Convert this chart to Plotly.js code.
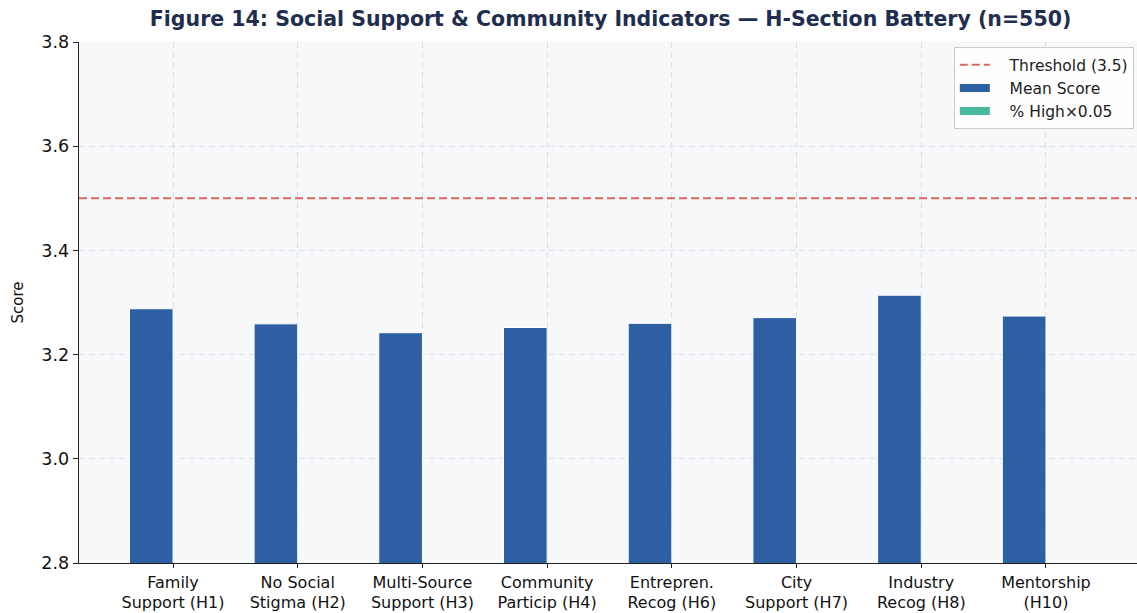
<!DOCTYPE html>
<html><head><meta charset="utf-8">
<script src="https://cdn.plot.ly/plotly-3.0.1.min.js"></script>
<style>html,body{margin:0;padding:0;background:#fff}#chart{width:1137px;height:613px}</style>
</head><body><div id="chart"></div>
<script>
const categories = ["Family<br>Support (H1)", "No Social<br>Stigma (H2)", "Multi-Source<br>Support (H3)", "Community<br>Particip (H4)", "Entrepren.<br>Recog (H6)", "City<br>Support (H7)", "Industry<br>Recog (H8)", "Mentorship<br>(H10)"];
const meanScore = [3.288, 3.259, 3.242, 3.252, 3.260, 3.271, 3.314, 3.274];
const pctHighScaled = [2.05, 1.95, 1.90, 1.93, 1.96, 2.00, 2.15, 2.01];
const threshold = 3.5;
const yTicks = [2.8, 3.0, 3.2, 3.4, 3.6, 3.8];
const seriesNames = ["Threshold (3.5)", "Mean Score", "% High×0.05"];

const blue = '#2e5fa3', teal = '#48b99f', red = '#d9695f';
const pad = '\u00a0\u00a0\u00a0';
const idx = categories.map((_, i) => i);
const traces = [
  {type: 'scatter', mode: 'lines', name: pad + seriesNames[0], x: [0, 1], y: [threshold, threshold],
   xaxis: 'x2', yaxis: 'y', line: {color: red, width: 2, dash: '8px,4px'}, hoverinfo: 'skip'},
  {type: 'bar', name: seriesNames[1], x: idx, y: meanScore, showlegend: false, marker: {color: blue, line: {color: '#ffffff', width: 1}}},
  {type: 'bar', name: seriesNames[2], x: idx, y: pctHighScaled, showlegend: false, marker: {color: teal, line: {color: '#ffffff', width: 1}}},
  {type: 'scatter', mode: 'lines', name: pad + seriesNames[1], x: [null], y: [null], line: {color: blue, width: 8}},
  {type: 'scatter', mode: 'lines', name: pad + seriesNames[2], x: [null], y: [null], line: {color: teal, width: 8}}
];
const font = "DejaVu Sans, sans-serif";
const layout = {
  width: 1137, height: 613,
  margin: {l: 79, r: 0, t: 42, b: 50},
  paper_bgcolor: '#ffffff', plot_bgcolor: '#f7f8fa',
  barmode: 'group', bargap: 0.3, bargroupgap: 0,
  showlegend: true,
  title: {text: '<b>Figure 14: Social Support & Community Indicators — H-Section Battery (n=550)</b>',
          font: {family: font, size: 20.5, color: '#1f2e50'}, x: 0.537, xanchor: 'center', y: 0.970, yanchor: 'middle'},
  font: {family: font, size: 14, color: '#222'},
  xaxis: {type: 'linear', range: [-0.754, 7.73], tickvals: idx, ticktext: categories,
          showgrid: true, gridcolor: '#dcdfe3', griddash: '6px,4px', gridwidth: 1,
          showline: true, linecolor: '#222', linewidth: 1.3, ticks: 'outside', ticklen: 4, tickcolor: '#222',
          tickfont: {family: font, size: 16, color: '#111'}, zeroline: false, fixedrange: true},
  xaxis2: {overlaying: 'x', range: [0, 1], visible: false, fixedrange: true},
  yaxis: {range: [2.8, 3.8], tickvals: yTicks, ticktext: yTicks.map(v => v.toFixed(1)),
          showgrid: true, gridcolor: '#dcdfe3', griddash: '6px,4px', gridwidth: 1,
          showline: true, linecolor: '#222', linewidth: 1.3, ticks: 'outside', ticklen: 5, tickcolor: '#222',
          tickfont: {family: font, size: 17.5, color: '#111'}, zeroline: false, fixedrange: true,
          title: {text: 'Score', font: {family: font, size: 15, color: '#111'}, standoff: 14}},
  legend: {x: 0.997, y: 0.99, xanchor: 'right', yanchor: 'top', bgcolor: 'rgba(255,255,255,0.85)',
           bordercolor: '#cccccc', borderwidth: 1, font: {family: font, size: 15.5, color: '#222'},
           tracegroupgap: 0, itemwidth: 30}
};
Plotly.newPlot('chart', traces, layout, {displayModeBar: false, staticPlot: true});
</script></body></html>
